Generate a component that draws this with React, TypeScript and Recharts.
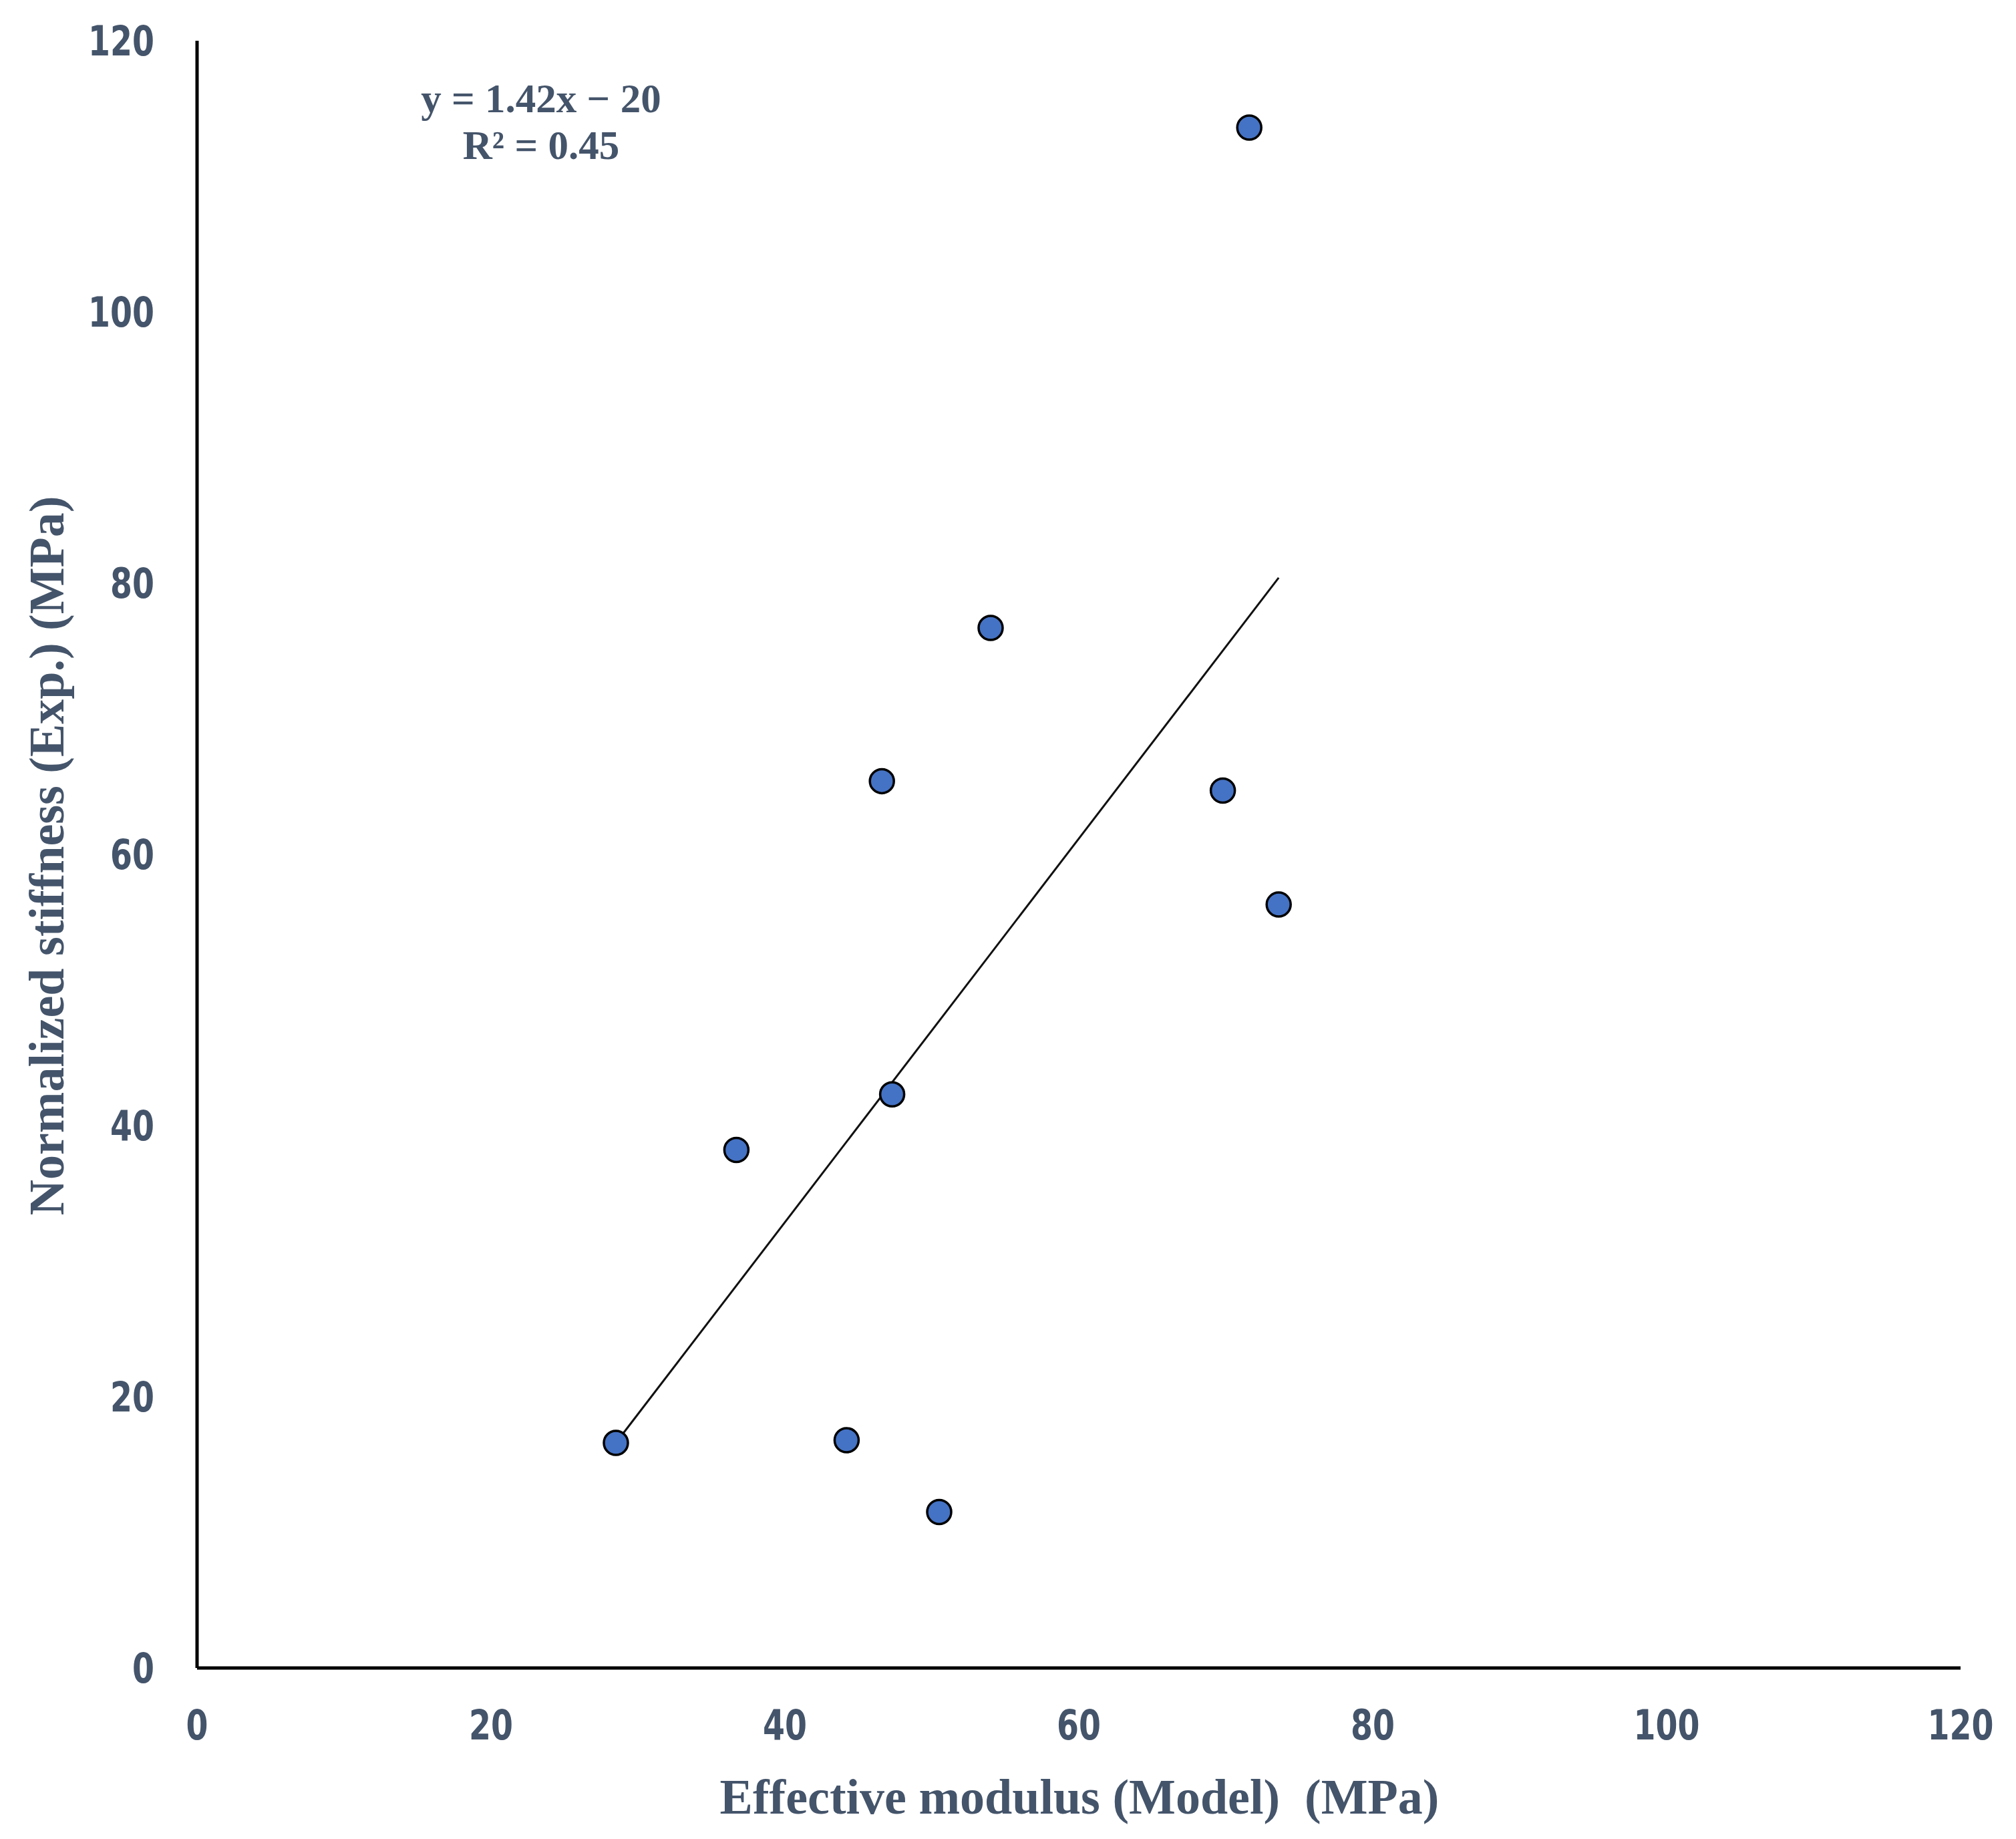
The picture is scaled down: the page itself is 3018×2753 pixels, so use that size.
import React from 'react'
import { ScatterChart, Scatter, XAxis, YAxis, Label } from 'recharts'

// Effective modulus (Model) vs normalized stiffness (Exp.), MPa
const modelModulus = [28.5, 36.7, 44.2, 46.6, 47.3, 50.5, 54.0, 69.8, 71.6, 73.6]
const expStiffness = [16.6, 38.2, 16.8, 65.4, 42.3, 11.5, 76.7, 64.7, 113.6, 56.3]

// drawn trend line end points
const trendX = [28.5, 73.6]
const trendY = [16.6, 80.4]

const axisTicks = [0, 20, 40, 60, 80, 100, 120]

const points = modelModulus.map((x, i) => ({ x, y: expStiffness[i] }))
const trend = trendX.map((x, i) => ({ x, y: trendY[i] }))

const TEXT = '#44546A'
const tickFont = "'Liberation Sans Narrow', 'DejaVu Sans Condensed', 'DejaVu Sans', sans-serif"
const serif = "'Liberation Serif', 'Times New Roman', serif"

const Dot = ({ cx, cy }: any) => (
  <circle cx={cx} cy={cy} r={18} fill="#4472C4" stroke="#000" strokeWidth={3.5} />
)

const NoDot = () => <g />

// narrow bold tick text, like Calibri in the original
const XTick = ({ x, y, payload }: any) => (
  <g transform={`translate(${x},${y}) scale(0.85,1)`}>
    <text x={0} y={0} dy="0.71em" textAnchor="middle" fill={TEXT} fontFamily={tickFont} fontWeight="bold" fontSize={62}>
      {payload.value}
    </text>
  </g>
)

const YTick = ({ x, y, payload }: any) => (
  <g transform={`translate(${x},${y}) scale(0.85,1)`}>
    <text x={0} y={0} dy="0.355em" textAnchor="end" fill={TEXT} fontFamily={tickFont} fontWeight="bold" fontSize={62}>
      {payload.value}
    </text>
  </g>
)

const XTitle = ({ viewBox }: any) => (
  <text
    x={viewBox.x + viewBox.width / 2 + 1}
    y={viewBox.y + 218}
    textAnchor="middle"
    fill={TEXT}
    fontFamily={serif}
    fontWeight="bold"
    fontSize={74}
    style={{ whiteSpace: 'pre' }}
  >
    {'Effective modulus (Model)\u00a0 (MPa)'}
  </text>
)

const YTitle = ({ viewBox }: any) => {
  const x = 95
  const y = viewBox.y + viewBox.height / 2 + 2
  return (
    <text
      x={x}
      y={y}
      transform={`rotate(-90, ${x}, ${y})`}
      textAnchor="middle"
      fill={TEXT}
      fontFamily={serif}
      fontWeight="bold"
      fontSize={74}
    >
      Normalized stiffness (Exp.) (MPa)
    </text>
  )
}

export default function App() {
  return (
    <div style={{ position: 'absolute', left: 0, top: 0, width: 3018, height: 2753, background: '#fff' }}>
      <ScatterChart width={3018} height={2753} margin={{ top: 61, right: 83, left: 0, bottom: 0 }}>
        <XAxis
          type="number"
          dataKey="x"
          domain={[0, 120]}
          ticks={axisTicks}
          interval={0}
          height={256}
          tickLine={false}
          tickSize={0}
          tickMargin={63}
          axisLine={{ stroke: '#000', strokeWidth: 5 }}
          tick={<XTick />}
        >
          <Label content={<XTitle />} />
        </XAxis>
        <YAxis
          type="number"
          dataKey="y"
          domain={[0, 120]}
          ticks={axisTicks}
          interval={0}
          width={295}
          tickLine={false}
          tickSize={0}
          tickMargin={64}
          axisLine={{ stroke: '#000', strokeWidth: 5 }}
          tick={<YTick />}
        >
          <Label content={<YTitle />} />
        </YAxis>
        <Scatter
          data={trend}
          line={{ stroke: '#111', strokeWidth: 3 }}
          shape={<NoDot />}
          isAnimationActive={false}
        />
        <Scatter data={points} shape={<Dot />} isAnimationActive={false} />
      </ScatterChart>
      <div
        style={{
          position: 'absolute',
          left: 610,
          top: 113,
          width: 400,
          textAlign: 'center',
          fontFamily: serif,
          fontWeight: 'bold',
          fontSize: 61,
          lineHeight: '70px',
          color: TEXT,
        }}
      >
        <div>y = 1.42x − 20</div>
        <div>R² = 0.45</div>
      </div>
    </div>
  )
}
